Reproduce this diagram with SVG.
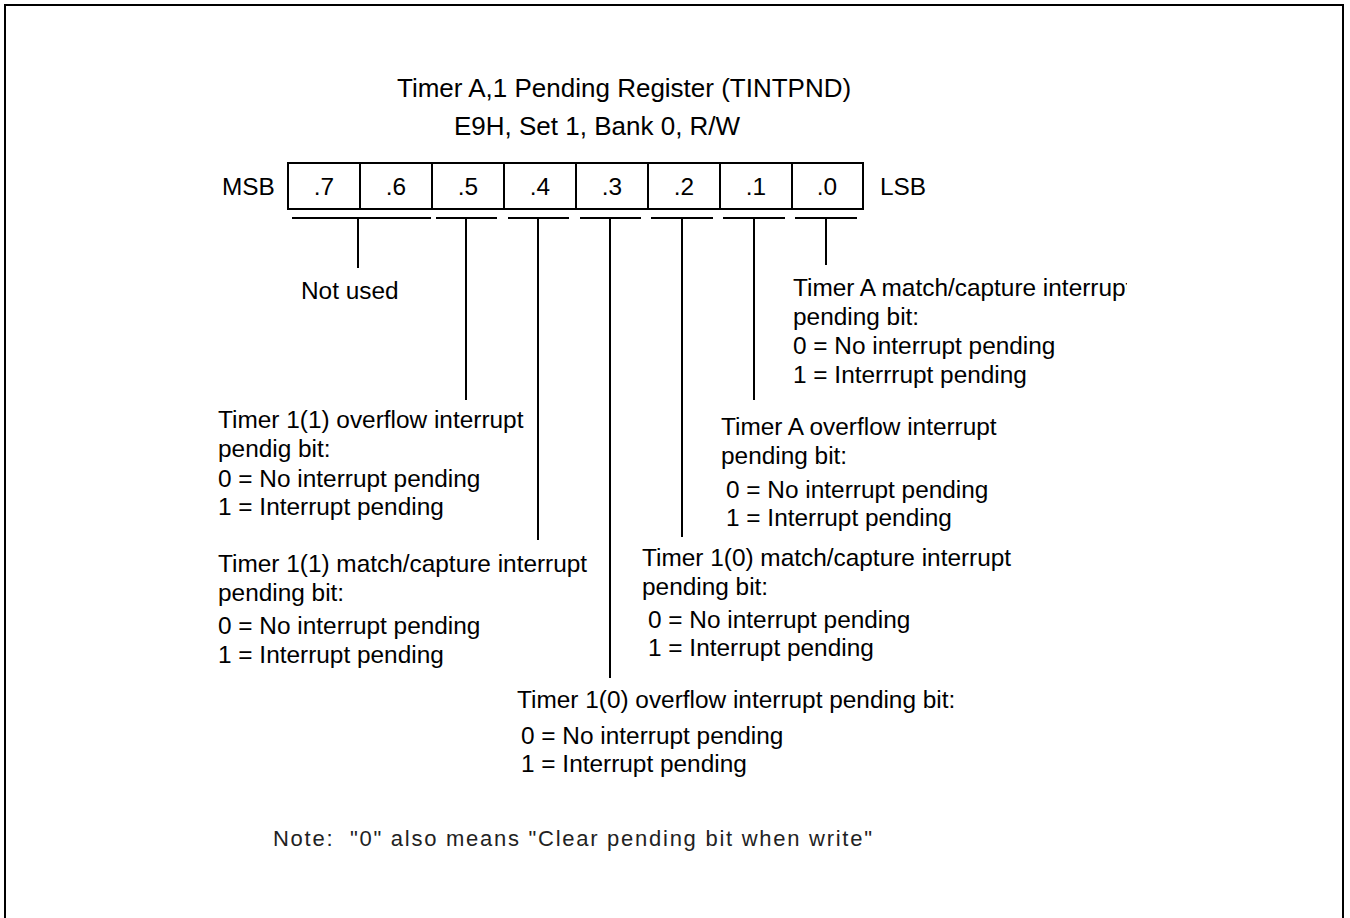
<svg xmlns="http://www.w3.org/2000/svg" width="1350" height="918" viewBox="0 0 1350 918">
<style>
.t{font-family:"Liberation Sans",Arial,sans-serif;font-size:24.4px;fill:#000}
.h{font-family:"Liberation Sans",Arial,sans-serif;font-size:26px;fill:#000}
.n{font-family:"Liberation Sans",Arial,sans-serif;font-size:22px;fill:#222}
.c{text-anchor:middle}
.ln{stroke:#000;stroke-width:2;fill:none}
</style>
<defs><clipPath id="clip0"><rect x="780" y="270" width="347" height="40"/></clipPath></defs>
<rect x="0" y="0" width="1350" height="918" fill="#fff"/>
<path class="ln" d="M5,925 V5 H1343 V925"/>
<g id="title">
<text class="h" x="397" y="97">Timer A,1 Pending Register (TINTPND)</text>
<text class="h" x="454" y="135">E9H, Set 1, Bank 0, R/W</text>
</g>
<g id="register">
<rect class="ln" x="288" y="163" width="575" height="46"/>
<path class="ln" d="M360,163V209M432,163V209M504,163V209M576,163V209M648,163V209M720,163V209M792,163V209"/>
<text class="t" x="222" y="195">MSB</text>
<text class="t" x="880" y="195">LSB</text>
<text class="t c" x="324" y="195">.7</text>
<text class="t c" x="396" y="195">.6</text>
<text class="t c" x="468" y="195">.5</text>
<text class="t c" x="540" y="195">.4</text>
<text class="t c" x="612" y="195">.3</text>
<text class="t c" x="684" y="195">.2</text>
<text class="t c" x="756" y="195">.1</text>
<text class="t c" x="827" y="195">.0</text>
</g>
<g id="connectors">
<path class="ln" d="M292,218H431M358,218V268"/>
<path class="ln" d="M436,218H497M466,218V400"/>
<path class="ln" d="M508,218H569M538,218V540"/>
<path class="ln" d="M580,218H641M610,218V678"/>
<path class="ln" d="M651,218H713M682,218V537"/>
<path class="ln" d="M723,218H785M754,218V400"/>
<path class="ln" d="M795,218H857M826,218V265"/>
</g>
<g id="bit76"><text class="t" x="301" y="299">Not used</text></g>
<g id="bit0">
<text class="t" x="793" y="296" clip-path="url(#clip0)">Timer A match/capture interrupt</text>
<text class="t" x="793" y="325">pending bit:</text>
<text class="t" x="793" y="354">0 = No interrupt pending</text>
<text class="t" x="793" y="383">1 = Interrrupt pending</text>
</g>
<g id="bit1">
<text class="t" x="721" y="435">Timer A overflow interrupt</text>
<text class="t" x="721" y="464">pending bit:</text>
<text class="t" x="726" y="498">0 = No interrupt pending</text>
<text class="t" x="726" y="526">1 = Interrupt pending</text>
</g>
<g id="bit5">
<text class="t" x="218" y="428">Timer 1(1) overflow interrupt</text>
<text class="t" x="218" y="457">pendig bit:</text>
<text class="t" x="218" y="487">0 = No interrupt pending</text>
<text class="t" x="218" y="515">1 = Interrupt pending</text>
</g>
<g id="bit4">
<text class="t" x="218" y="572">Timer 1(1) match/capture interrupt</text>
<text class="t" x="218" y="601">pending bit:</text>
<text class="t" x="218" y="634">0 = No interrupt pending</text>
<text class="t" x="218" y="663">1 = Interrupt pending</text>
</g>
<g id="bit2">
<text class="t" x="642" y="566">Timer 1(0) match/capture interrupt</text>
<text class="t" x="642" y="595">pending bit:</text>
<text class="t" x="648" y="628">0 = No interrupt pending</text>
<text class="t" x="648" y="656">1 = Interrupt pending</text>
</g>
<g id="bit3">
<text class="t" x="517" y="708">Timer 1(0) overflow interrupt pending bit:</text>
<text class="t" x="521" y="744">0 = No interrupt pending</text>
<text class="t" x="521" y="772">1 = Interrupt pending</text>
</g>
<g id="note">
<text class="n" x="273" y="846" xml:space="preserve" textLength="599" lengthAdjust="spacing">Note:  "0" also means "Clear pending bit when write"</text>
</g>
</svg>
